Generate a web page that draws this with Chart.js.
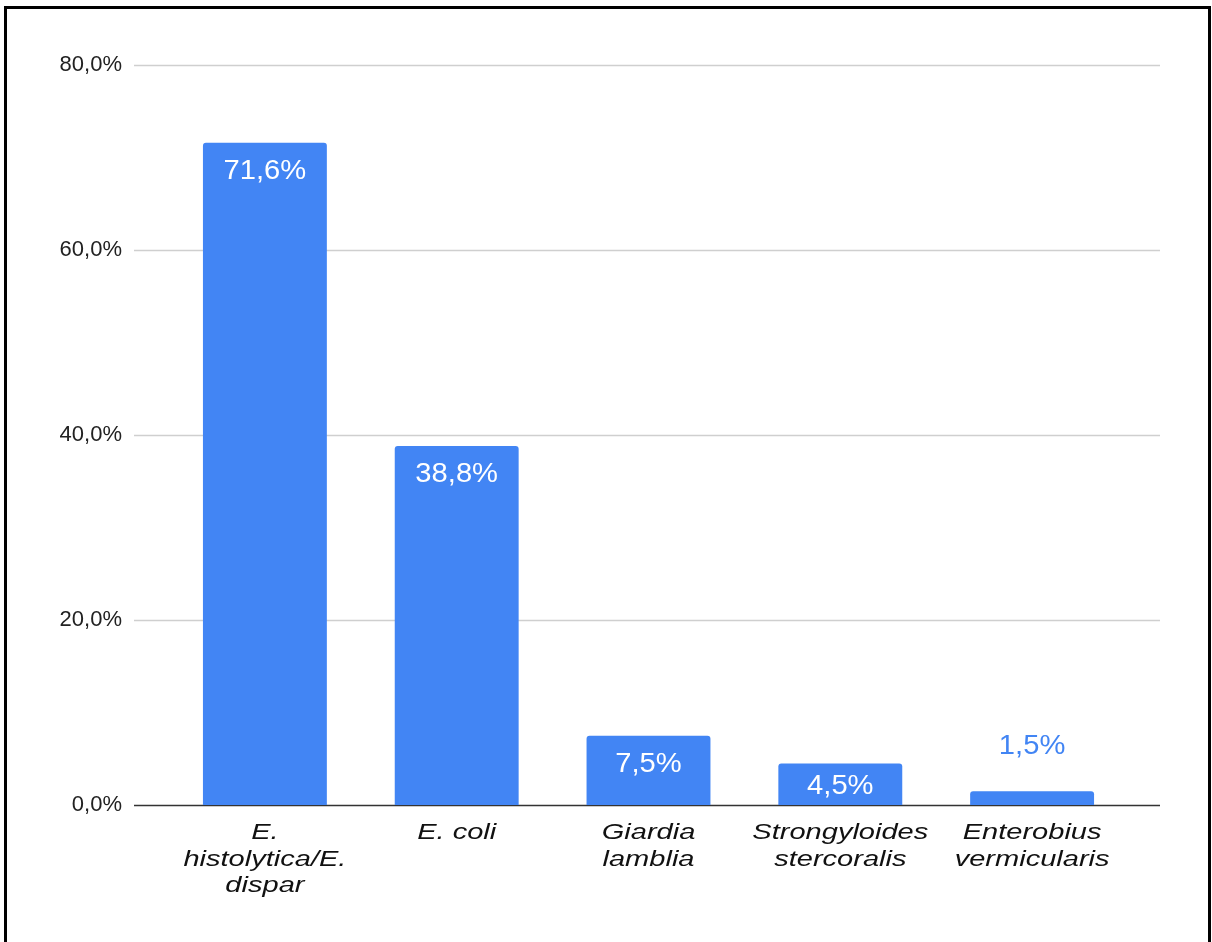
<!DOCTYPE html>
<html>
<head>
<meta charset="utf-8">
<script src="https://cdn.jsdelivr.net/npm/chart.js@4.4.1/dist/chart.umd.min.js"></script>
<style>
  html, body { margin: 0; padding: 0; background: #fff; overflow: hidden; }
  #frame {
    position: absolute; left: 4px; top: 6px; width: 1201px; height: 960px;
    border: 3px solid #000; box-sizing: content-box;
  }
  #wrap { position: absolute; left: 0; top: 0; width: 1212px; height: 942px; }
</style>
</head>
<body>
<div id="frame"></div>
<div id="wrap"><canvas id="myChart" width="1212" height="942"></canvas></div>
<script>
var categories = [
    ["E.", "histolytica/E.", "dispar"],
    ["E. coli"],
    ["Giardia", "lamblia"],
    ["Strongyloides", "stercoralis"],
    ["Enterobius", "vermicularis"]
];
var prevalence = [71.6, 38.8, 7.5, 4.5, 1.5];
var yTicks = [0, 20, 40, 60, 80];

var barColor = "#4285F4";

function pct(v) {
    return v.toFixed(1).replace(".", ",") + "%";
}

// grid lines run a bit past the bars on both sides
var gridPlugin = {
    id: "wideGrid",
    beforeDatasetsDraw: function (chart) {
        var ctx = chart.ctx;
        var area = chart.chartArea;
        var y = chart.scales.y;
        ctx.save();
        for (var i = 0; i < yTicks.length; i++) {
            var py = Math.round(y.getPixelForValue(yTicks[i])) + 0.5;
            ctx.beginPath();
            ctx.strokeStyle = yTicks[i] === 0 ? "#333" : "#cfcfcf";
            ctx.lineWidth = 1.5;
            ctx.moveTo(area.left - 35, py);
            ctx.lineTo(area.right + 32, py);
            ctx.stroke();
        }
        ctx.restore();
    }
};

// value labels on the bars and the italic species names under them
var labelPlugin = {
    id: "barLabels",
    afterDatasetsDraw: function (chart) {
        var ctx = chart.ctx;
        var meta = chart.getDatasetMeta(0);
        ctx.save();
        ctx.font = "27px 'Liberation Sans', Arial, sans-serif";
        ctx.textAlign = "center";
        ctx.textBaseline = "alphabetic";
        meta.data.forEach(function (bar, i) {
            var top = bar.y, base = bar.base, h = base - top;
            var by, color = "#fff";
            if (h >= 52) {
                by = top + 36;
            } else if (h >= 30) {
                by = (top + base) / 2 + 9.5;
            } else {
                by = top - 37;
                color = barColor;
            }
            ctx.fillStyle = color;
            ctx.save();
            ctx.translate(bar.x, by);
            ctx.scale(1.08, 1);
            ctx.fillText(pct(prevalence[i]), 0, 0);
            ctx.restore();
        });

        var x = chart.scales.x;
        var bottom = chart.chartArea.bottom;
        ctx.font = "italic 22px 'Liberation Sans', Arial, sans-serif";
        ctx.fillStyle = "#111";
        categories.forEach(function (lines, i) {
            var px = x.getPixelForValue(i);
            lines.forEach(function (line, j) {
                ctx.save();
                ctx.translate(px, bottom + 34 + j * 26.5);
                ctx.scale(1.32, 1);
                ctx.fillText(line, 0, 0);
                ctx.restore();
            });
        });
        ctx.restore();
    }
};

function init_chart() {
    var ctx = document.getElementById("myChart").getContext("2d");
    window.myChart = new Chart(ctx, {
        type: "bar",
        data: {
            labels: categories,
            datasets: [{
                data: prevalence,
                backgroundColor: barColor,
                borderRadius: { topLeft: 3, topRight: 3 },
                borderSkipped: "bottom",
                categoryPercentage: 0.646,
                barPercentage: 1
            }]
        },
        options: {
            responsive: false,
            animation: false,
            devicePixelRatio: 1,
            layout: { padding: { top: 65, right: 84, left: 0, bottom: 0 } },
            plugins: {
                legend: { display: false },
                tooltip: { enabled: false }
            },
            scales: {
                x: {
                    grid: { display: false },
                    border: { display: false },
                    ticks: { display: false },
                    afterFit: function (scale) { scale.height = 137; }
                },
                y: {
                    min: 0,
                    max: 80,
                    grid: { display: false },
                    border: { display: false },
                    afterFit: function (scale) { scale.width = 169; },
                    afterBuildTicks: function (scale) {
                        scale.ticks = yTicks.map(function (v) { return { value: v }; });
                    },
                    ticks: {
                        padding: 39,
                        color: "#222",
                        font: { family: "'Liberation Sans', Arial, sans-serif", size: 22 },
                        callback: function (v) { return pct(v); }
                    }
                }
            }
        },
        plugins: [gridPlugin, labelPlugin]
    });
}

init_chart();
</script>
</body>
</html>
